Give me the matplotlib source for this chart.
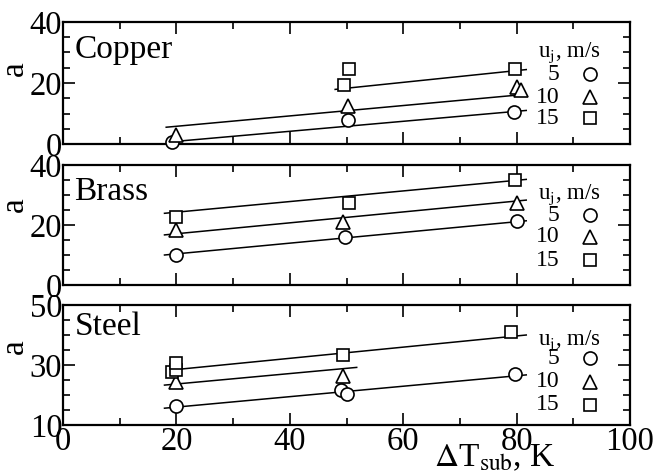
import matplotlib.pyplot as plt
from matplotlib.ticker import MultipleLocator

plt.rcParams['font.family'] = ['Liberation Serif', 'DejaVu Serif']
plt.rcParams['mathtext.fontset'] = 'stix'

materials = ['Copper', 'Brass', 'Steel']
speeds = ['5', '10', '15']
markers = ['o', '^', 's']
ylims = [(0, 40), (0, 40), (10, 50)]
yticks = [[0, 20, 40], [0, 20, 40], [10, 30, 50]]

# measured points (per material: circles, triangles, squares)
cu_x = [[19.3, 50.3, 79.5], [20.0, 50.3, 80.0, 80.8], [49.6, 50.4, 79.8]]
cu_a = [[0.8, 7.9, 10.6], [3.0, 12.3, 18.8, 17.8], [19.3, 24.6, 24.6]]
br_x = [[20.0, 49.7, 80.0], [20.0, 49.4, 80.0], [20.0, 50.4, 79.7]]
br_a = [[10.0, 15.9, 21.4], [18.2, 21.1, 27.4], [22.8, 27.4, 35.0]]
st_x = [[20.0, 49.1, 50.1, 79.8], [20.0, 49.4], [19.3, 20.0, 20.0, 49.4, 79.1]]
st_a = [[16.3, 21.7, 20.3, 26.9], [24.3, 26.2], [27.7, 28.3, 30.7, 33.3, 41.1]]

# fitted straight lines: end points
cu_fit_x = [[19.5, 81.7], [18.2, 81.7], [48.0, 81.7]]
cu_fit_a = [[0.8, 11.0], [5.5, 16.3], [17.9, 24.4]]
br_fit_x = [[17.9, 81.7], [17.9, 81.7], [17.9, 81.7]]
br_fit_a = [[10.0, 21.4], [16.7, 28.3], [23.9, 35.2]]
st_fit_x = [[17.9, 81.7], [17.9, 51.8], [21.1, 81.7]]
st_fit_a = [[15.6, 26.7], [23.3, 29.2], [28.7, 40.0]]

pts_x = [cu_x, br_x, st_x]
pts_a = [cu_a, br_a, st_a]
fit_x = [cu_fit_x, br_fit_x, st_fit_x]
fit_a = [cu_fit_a, br_fit_a, st_fit_a]

fig = plt.figure(figsize=(6.56, 4.75), dpi=100)
left, width = 63 / 656, 567 / 656
tops = [22, 165, 305]
heights = [122, 120, 120]

# per panel text placement (axes fraction)
name_y = [0.77, 0.775, 0.82]
alab_y = [0.62, 0.67, 0.65]
leg_y = [[0.75, 0.57, 0.385, 0.21], [0.75, 0.583, 0.40, 0.208], [0.70, 0.555, 0.36, 0.17]]
msize = {'o': 9.4, '^': 9.6, 's': 8.6}

for i, mat in enumerate(materials):
    ax = fig.add_axes([left, 1 - (tops[i] + heights[i]) / 475, width, heights[i] / 475])
    for j, m in enumerate(markers):
        ax.plot(fit_x[i][j], fit_a[i][j], color='black', lw=1.1)
        ax.plot(pts_x[i][j], pts_a[i][j], linestyle='none', marker=m, ms=msize[m],
                mfc='white', mec='black', mew=1.2, clip_on=False, zorder=3)
    ax.set_xlim(0, 100)
    ax.set_ylim(*ylims[i])
    ax.xaxis.set_major_locator(MultipleLocator(20))
    ax.xaxis.set_minor_locator(MultipleLocator(10))
    ax.set_yticks(yticks[i])
    ax.yaxis.set_minor_locator(MultipleLocator(5))
    ax.tick_params(which='both', direction='in', top=True, right=True, width=1.2)
    ax.tick_params(which='major', length=8.5)
    ax.tick_params(which='minor', length=5)
    ax.tick_params(axis='y', labelsize=23.5, pad=0.5)
    ax.tick_params(axis='x', labelsize=23.5, pad=1)
    if i < 2:
        ax.tick_params(axis='x', labelbottom=False)
    for s in ax.spines.values():
        s.set_linewidth(1.6)

    ax.text(0.02, name_y[i], mat, transform=ax.transAxes, fontsize=24, va='center', ha='left')
    ax.text(-0.085, alab_y[i], 'a', transform=ax.transAxes, fontsize=24, rotation=90,
            va='center', ha='center')

    ax.text(0.838, leg_y[i][0], r'u$_{\rm j}$, m/s', transform=ax.transAxes, fontsize=16.5,
            va='center', ha='left')
    for j, m in enumerate(markers):
        ax.text(0.876, leg_y[i][j + 1], speeds[j], transform=ax.transAxes, fontsize=17,
                va='center', ha='right')
        ax.plot([0.929], [leg_y[i][j + 1]], transform=ax.transAxes, marker=m, ms=msize[m],
                mfc='white', mec='black', mew=1.2, clip_on=False)

fig.text(495 / 656, 1 - 458 / 475, r'$\Delta$T$_{\rm sub}$, K', fontsize=24, ha='center', va='center')

fig.savefig('out.png', dpi=100)
